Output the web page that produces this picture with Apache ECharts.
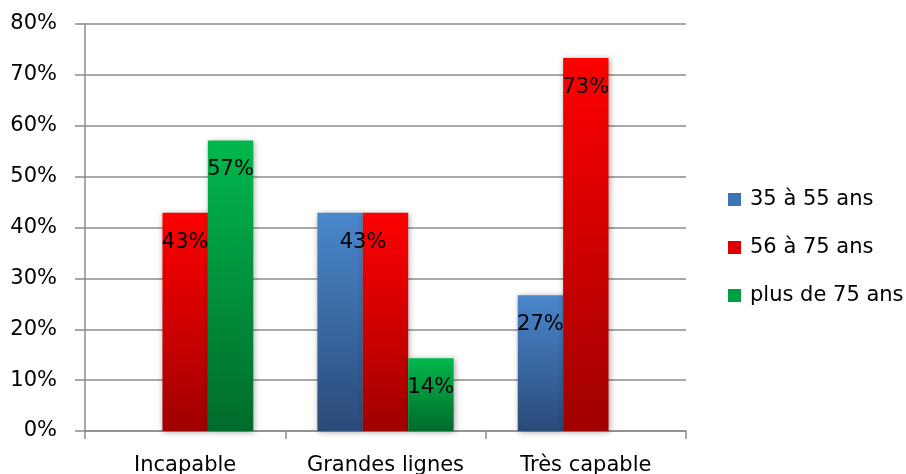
<!DOCTYPE html>
<html><head><meta charset="utf-8">
<script src="https://cdn.jsdelivr.net/npm/echarts@6/dist/echarts.min.js"></script>
<style>html,body{margin:0;padding:0;background:#fff}#c{width:906px;height:474px}</style>
</head><body><div id="c"></div>
<script>
const categories = ['Incapable', 'Grandes lignes', 'Très capable'];
const seriesNames = ['35 à 55 ans', '56 à 75 ans', 'plus de 75 ans'];
const s1 = [null, 0.429, 0.267];
const s2 = [0.429, 0.429, 0.733];
const s3 = [0.571, 0.143, null];
// which values carry a data label
const show1 = [false, true, true];
const show2 = [true, false, true];
const show3 = [true, true, false];
const yTicks = [0, 0.1, 0.2, 0.3, 0.4, 0.5, 0.6, 0.7, 0.8];

const FONT = 'DejaVu Sans';
const FS = 21;
function grad(top, bottom) {
  return new echarts.graphic.LinearGradient(0, 0, 0, 1, [{offset: 0, color: top}, {offset: 1, color: bottom}]);
}
const colors = [grad('#4a87cc', '#2a4a78'), grad('#ff0000', '#a00000'), grad('#00b84c', '#006b2c')];
const legendColors = ['#3f74b4', '#e00000', '#00a040'];
const pct = v => Math.round(v * 100) + '%';
function mk(name, vals, shows, color, offsets) {
  return {
    name, type: 'bar', barGap: '0%', barCategoryGap: '32%',
    itemStyle: {color, shadowColor: 'rgba(0,0,0,0.35)', shadowBlur: 6, shadowOffsetX: 1, shadowOffsetY: 1},
    data: vals.map((v, i) => ({
      value: v,
      label: {show: shows[i] && v != null, offset: offsets ? offsets[i] : [0, 0]}
    })),
    label: {position: 'insideTop', distance: 19, color: '#000', fontFamily: FONT, fontSize: FS,
      formatter: p => pct(p.value)}
  };
}
const chart = echarts.init(document.getElementById('c'));
chart.setOption({
  animation: false,
  textStyle: {fontFamily: FONT},
  grid: {left: 85, right: 220, top: 24, bottom: 43, outerBoundsMode: 'none', containLabel: false},
  legend: {
    orient: 'vertical', left: 723, top: 184, itemGap: 27, itemWidth: 13, itemHeight: 13,
    textStyle: {fontFamily: FONT, fontSize: FS, color: '#000', padding: [0, 0, 0, 4]},
    data: seriesNames.map((n, i) => ({name: n, icon: 'rect', itemStyle: {color: legendColors[i]}}))
  },
  xAxis: {
    type: 'category', data: categories,
    axisLine: {lineStyle: {color: '#8c8c8c', width: 1.5}},
    axisTick: {show: true, length: 8, lineStyle: {color: '#8c8c8c', width: 1.5}},
    axisLabel: {interval: 0, fontFamily: FONT, fontSize: FS, color: '#000', margin: 24}
  },
  yAxis: {
    type: 'value', min: 0, max: 0.8, interval: 0.1,
    axisLine: {show: true, lineStyle: {color: '#8c8c8c', width: 1.5}},
    axisTick: {show: true, length: 10, lineStyle: {color: '#8c8c8c', width: 1.5}},
    splitLine: {lineStyle: {color: '#8c8c8c', width: 1.5}},
    axisLabel: {fontFamily: FONT, fontSize: FS, color: '#000', margin: 28,
      formatter: v => yTicks.some(t => Math.abs(t - v) < 1e-9) ? pct(v) : ''}
  },
  series: [
    mk(seriesNames[0], s1, show1, colors[0], [[0, 0], [23, 0], [0, 0]]),
    mk(seriesNames[1], s2, show2, colors[1]),
    mk(seriesNames[2], s3, show3, colors[2])
  ]
});
</script></body></html>
